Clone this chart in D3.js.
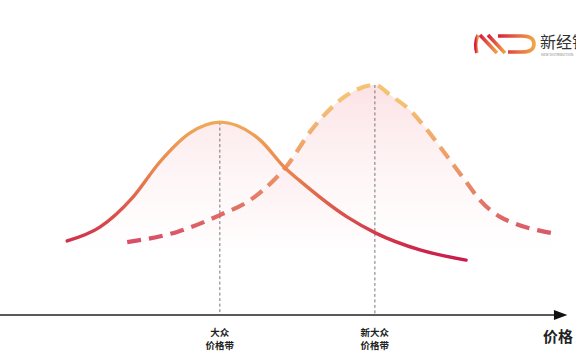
<!DOCTYPE html>
<html><head><meta charset="utf-8">
<script src="https://cdn.jsdelivr.net/npm/d3@7"></script>
<style>
html,body{margin:0;padding:0;background:#fff;}
svg{display:block;font-family:"Noto Sans CJK SC","Noto Sans",sans-serif;}
</style></head>
<body>
<svg id="c" width="576" height="356"></svg>
<script>
// price (x) and demand (y) readings
const currentPrice  = [14, 20.8, 27.7, 33.3, 39.6, 45.8, 54.2, 59.4, 62.5, 72.3, 78.3, 87.5, 97.1];
const currentDemand = [24.7, 29.3, 39.3, 51, 60.7, 64.3, 58.3, 49, 44.7, 32.7, 27.3, 21.7, 18.3];
const newPrice  = [26.5, 36.9, 45.8, 52.1, 57.7, 59.4, 65.2, 72.3, 78.1, 81.3, 85.4, 89, 91.7, 97.3, 100, 104.2, 106.9, 115];
const newDemand = [24.3, 27.7, 33.3, 38.3, 46, 49, 62.3, 73.3, 76.7, 73.3, 68.3, 61.7, 56, 44, 38.3, 32.7, 30.7, 27.3];
const bandPrices = [45.8, 78.1];
const bandLine1 = ["大众","新大众"];
const bandLine2 = ["价格带","价格带"];
const bandPeaks = [64.3, 76.7];
const axisLabel = "价格";
const logoText = "新经销";
const logoSub = "NEW DISTRIBUTION";

const svg = d3.select("#c");
const x = d3.scaleLinear().domain([0,120]).range([0,576]);
const y = d3.scaleLinear().domain([0,100]).range([315,15]);

const defs = svg.append("defs");
const sg = defs.append("linearGradient").attr("id","strokeG").attr("gradientUnits","userSpaceOnUse")
  .attr("x1",0).attr("x2",0).attr("y1",y(72)).attr("y2",y(18));
sg.append("stop").attr("offset",0).attr("stop-color","#f3ba5e");
sg.append("stop").attr("offset",0.45).attr("stop-color","#e8844e");
sg.append("stop").attr("offset",1).attr("stop-color","#c91a4b");
const fg = defs.append("linearGradient").attr("id","fillG").attr("gradientUnits","userSpaceOnUse")
  .attr("x1",0).attr("x2",0).attr("y1",y(78)).attr("y2",y(20));
fg.append("stop").attr("offset",0).attr("stop-color","#fbdcdf").attr("stop-opacity",0.85);
fg.append("stop").attr("offset",1).attr("stop-color","#fdeef0").attr("stop-opacity",0);
const lg = defs.append("linearGradient").attr("id","logoG").attr("x1",0).attr("x2",1).attr("y1",0).attr("y2",0);
lg.append("stop").attr("offset",0).attr("stop-color","#d8203c");
lg.append("stop").attr("offset",1).attr("stop-color","#f2a447");

const cur = currentPrice.map((p,i)=>[p,currentDemand[i]]);
const nw = newPrice.map((p,i)=>[p,newDemand[i]]);

const area = d3.area().x(d=>x(d[0])).y0(y(0)).y1(d=>y(d[1])).curve(d3.curveMonotoneX);
const line = d3.line().x(d=>x(d[0])).y(d=>y(d[1])).curve(d3.curveMonotoneX);

svg.append("path").datum(nw).attr("d",area).attr("fill","url(#fillG)");
svg.append("path").datum(cur).attr("d",area).attr("fill","url(#fillG)");

// guide lines
svg.selectAll(".guide").data(bandPrices).enter().append("line")
  .attr("x1",d=>x(d)).attr("x2",d=>x(d))
  .attr("y1",(d,i)=>y(bandPeaks[i])).attr("y2",y(0))
  .attr("stroke","#555").attr("stroke-width",0.8).attr("stroke-dasharray","3,2.5");

svg.append("path").datum(nw).attr("d",line).attr("fill","none")
  .attr("stroke","url(#strokeG)").attr("stroke-width",4.2).attr("stroke-dasharray","14,8")
  .attr("opacity",0.85);
svg.append("path").datum(cur).attr("d",line).attr("fill","none")
  .attr("stroke","url(#strokeG)").attr("stroke-width",3.4).attr("stroke-linecap","round");

// axis
const ax = svg.append("g").attr("transform",`translate(0,${y(0)})`)
  .call(d3.axisBottom(x).tickValues([]).tickSizeOuter(0));
ax.select(".domain").attr("stroke","#222").attr("stroke-width",1.6)
  .attr("d",`M0,0H${x(115.8)}`);
svg.append("path").attr("d",`M${x(115.4)},${y(0)-5}L${x(118.2)},${y(0)}L${x(115.4)},${y(0)+5}Z`).attr("fill","#111");

svg.selectAll(".b1").data(bandPrices).enter().append("text")
  .attr("x",d=>x(d)).attr("y",335.5).attr("text-anchor","middle").attr("font-size",9.5)
  .attr("font-weight","bold").attr("fill","#222").text((d,i)=>bandLine1[i]);
svg.selectAll(".b2").data(bandPrices).enter().append("text")
  .attr("x",d=>x(d)).attr("y",349).attr("text-anchor","middle").attr("font-size",9.5)
  .attr("font-weight","bold").attr("fill","#222").text((d,i)=>bandLine2[i]);

svg.append("text").attr("x",543).attr("y",342).attr("font-size",15).attr("font-weight","bold")
  .attr("fill","#222").text(axisLabel);

// logo
const lgG = svg.append("g").attr("fill","none").attr("stroke","url(#logoG)").attr("stroke-width",3.6);
lgG.append("path").attr("d","M478,35 Q474,44 477,53");
lgG.append("path").attr("d","M480,35 L497,53");
lgG.append("path").attr("d","M488,35 L505,53");
lgG.append("path").attr("d","M498,36 H522 Q534,36 534,44 Q534,52 522,52 H508");
svg.append("text").attr("x",540).attr("y",48).attr("font-size",16).attr("fill","#333").text(logoText);
svg.append("text").attr("x",541).attr("y",56).attr("font-size",3.5).attr("fill","#888").text(logoSub);
</script>
</body></html>
